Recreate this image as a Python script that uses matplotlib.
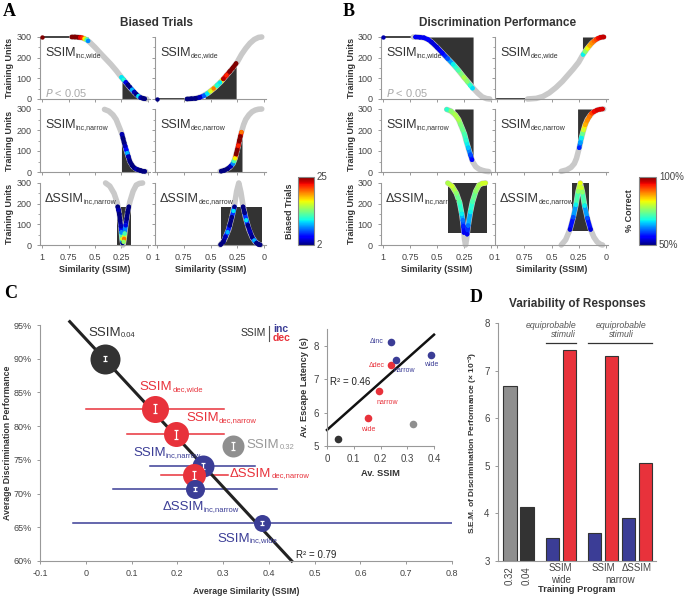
import numpy as np
import matplotlib
matplotlib.use('Agg')
import matplotlib.pyplot as plt
from matplotlib.collections import LineCollection
from matplotlib.patches import Rectangle
from matplotlib.lines import Line2D
from matplotlib import cm, colors
from matplotlib.transforms import blended_transform_factory

plt.rcParams['font.family'] = ['Liberation Sans', 'DejaVu Sans']
plt.rcParams['mathtext.default'] = 'regular'

# ---- training curves (similarity vs training units); first point is the start before the jump ----
inc_wide_x = [1.0, 0.72, 0.66, 0.62, 0.58, 0.55, 0.50, 0.45, 0.40, 0.35, 0.30, 0.25, 0.20, 0.16, 0.12, 0.08, 0.04, 0.01]
inc_wide_y = [300, 300, 299, 296, 287, 275, 250, 222, 195, 168, 138, 105, 75, 50, 28, 10, 2, 0]
dec_wide_x = [1.0, 0.72, 0.64, 0.58, 0.52, 0.46, 0.40, 0.35, 0.30, 0.25, 0.21, 0.17, 0.13, 0.09, 0.05, 0.02]
dec_wide_y = [0, 0, 3, 12, 30, 55, 85, 115, 145, 178, 215, 245, 270, 288, 298, 300]
inc_narrow_x = [0.41, 0.37, 0.33, 0.30, 0.28, 0.26, 0.245, 0.23, 0.21, 0.19, 0.17, 0.14, 0.11, 0.08, 0.05, 0.02]
inc_narrow_y = [298, 290, 272, 250, 225, 200, 180, 150, 115, 82, 50, 25, 14, 8, 4, 2]
dec_narrow_x = [0.41, 0.36, 0.32, 0.29, 0.27, 0.255, 0.24, 0.225, 0.21, 0.19, 0.17, 0.14, 0.11, 0.08, 0.05, 0.02]
dec_narrow_y = [3, 10, 22, 40, 65, 95, 125, 160, 190, 225, 250, 272, 287, 295, 299, 300]
dinc_x = [0.40, 0.36, 0.32, 0.29, 0.27, 0.255, 0.245, 0.235, 0.225, 0.21, 0.19, 0.17, 0.14, 0.11, 0.08, 0.05]
dinc_y = [300, 285, 250, 205, 150, 90, 30, 0, 30, 95, 160, 210, 260, 290, 298, 300]
ddec_x = [0.41, 0.37, 0.33, 0.30, 0.275, 0.255, 0.235, 0.215, 0.195, 0.17, 0.14, 0.11, 0.08, 0.05, 0.03]
ddec_y = [0, 25, 75, 135, 195, 260, 300, 255, 190, 130, 75, 38, 15, 3, 0]

# ---- A: biased trials along the curves (x, y, value) ----
biased_inc_wide = [([1.0], [300], [25]),
                   ([0.72, 0.69, 0.66, 0.64, 0.62, 0.60, 0.58, 0.565], [300, 300, 299, 298, 296, 292, 287, 281], [25, 25, 25, 23, 22, 17, 12, 8]),
                   ([0.25, 0.23, 0.21, 0.19, 0.17, 0.15, 0.13, 0.11, 0.09, 0.07, 0.05, 0.03], [105, 93, 81, 69, 57, 45, 34, 23, 14, 7, 4, 1], [10, 11, 4, 2, 2, 9, 3, 2, 10, 3, 2, 2])]
biased_dec_wide = [([1.0], [0], [2]),
                   ([0.72, 0.68, 0.64, 0.60, 0.56, 0.53, 0.50, 0.47, 0.44, 0.41, 0.38, 0.35, 0.32, 0.29, 0.26], [0, 1, 3, 8, 16, 26, 38, 51, 65, 80, 97, 115, 133, 151, 172], [2, 2, 2, 3, 7, 10, 16, 20, 11, 10, 24, 22, 25, 25, 25])]
biased_inc_narrow = [([0.245, 0.235, 0.225, 0.215, 0.205, 0.195, 0.185, 0.17, 0.15, 0.13, 0.11, 0.09, 0.07, 0.05, 0.03], [180, 160, 140, 123, 106, 90, 74, 50, 32, 20, 14, 10, 7, 4, 3], [3, 2, 2, 3, 5, 9, 3, 2, 2, 2, 3, 2, 2, 2, 2])]
biased_dec_narrow = [([0.40, 0.37, 0.34, 0.31, 0.29, 0.28, 0.27, 0.26, 0.25, 0.24, 0.23, 0.22, 0.21], [4, 8, 15, 28, 40, 52, 65, 85, 105, 125, 148, 170, 190], [2, 2, 2, 3, 8, 12, 17, 25, 25, 22, 25, 25, 20])]
biased_dinc = [([0.285, 0.278, 0.27, 0.263, 0.255, 0.25, 0.245, 0.24], [185, 170, 150, 120, 90, 60, 30, 10], [2, 3, 2, 2, 3, 8, 16, 2]),
               ([0.18, 0.19, 0.20, 0.21, 0.22, 0.225, 0.23], [185, 160, 128, 95, 55, 30, 15], [2, 2, 2, 4, 12, 20, 14])]
biased_ddec = [([0.405, 0.38, 0.36, 0.34, 0.32, 0.30, 0.285, 0.275], [2, 15, 40, 62, 95, 135, 165, 185], [2, 2, 3, 9, 2, 2, 10, 2]),
               ([0.195, 0.18, 0.165, 0.15, 0.13, 0.11, 0.09, 0.07, 0.05, 0.035], [185, 155, 120, 95, 65, 38, 22, 10, 3, 1], [2, 2, 10, 2, 3, 2, 9, 2, 2, 2])]

# ---- B: % correct along the curves ----
correct_inc_wide = [([1.0], [300], [52]),
                    ([0.70, 0.66, 0.62, 0.58, 0.55, 0.50, 0.45, 0.40, 0.35, 0.30, 0.25, 0.22, 0.19, 0.17], [300, 299, 296, 287, 275, 250, 222, 195, 168, 138, 105, 85, 65, 52], [55, 55, 55, 56, 54, 54, 56, 60, 68, 72, 78, 76, 70, 67])]
correct_dec_wide = [([0.21, 0.19, 0.17, 0.15, 0.13, 0.11, 0.09, 0.07, 0.05, 0.03, 0.02], [215, 230, 245, 258, 270, 280, 288, 294, 298, 300, 300], [68, 76, 82, 86, 88, 90, 92, 95, 96, 97, 97])]
correct_inc_narrow = [([0.41, 0.37, 0.33, 0.30, 0.28, 0.26, 0.245, 0.23, 0.21, 0.19, 0.175], [298, 290, 272, 250, 225, 200, 180, 150, 115, 82, 58], [70, 76, 78, 78, 75, 74, 72, 70, 66, 60, 56])]
correct_dec_narrow = [([0.245, 0.235, 0.225, 0.215, 0.205, 0.19, 0.17, 0.15, 0.13, 0.11, 0.08, 0.05, 0.03], [115, 140, 162, 183, 200, 225, 247, 265, 280, 287, 295, 299, 300], [58, 64, 68, 74, 80, 86, 88, 89, 92, 95, 96, 96, 96])]
correct_dinc = [([0.40, 0.36, 0.32, 0.29, 0.27, 0.26, 0.255, 0.25], [300, 285, 250, 205, 150, 119, 90, 60], [78, 80, 76, 72, 68, 62, 58, 55]),
                ([0.22, 0.21, 0.19, 0.17, 0.14, 0.11, 0.08, 0.05], [52, 95, 160, 210, 260, 290, 298, 300], [55, 62, 68, 72, 76, 78, 80, 80])]
correct_ddec = [([0.33, 0.30, 0.275, 0.255, 0.235], [75, 135, 195, 260, 300], [54, 60, 68, 76, 82]),
                ([0.225, 0.215, 0.195, 0.17, 0.14], [278, 255, 190, 130, 75], [80, 76, 68, 60, 54])]

# significant regions: ('below'/'above', x0, x1) or ('rect', x0, x1, y0, y1)
fills_A = [[('above', 0.72, 0.565), ('below', 0.245, 0.0)], [('below', 0.55, 0.26)],
           [('below', 0.25, 0.0)], [('below', 0.41, 0.205)],
           [('rect', 0.29, 0.16, 0, 184)], [('rect', 0.405, 0.02, 0, 184)]]
fills_B = [[('above', 0.65, 0.165)], [('above', 0.215, 0.02)],
           [('above', 0.335, 0.165)], [('above', 0.26, 0.02)],
           [('rect', 0.40, 0.04, 57, 300)], [('rect', 0.315, 0.157, 67, 300)]]

# ---- C: average similarity vs discrimination ----
c_labels = [('SSIM', '0.04'), ('SSIM', 'dec,wide'), ('SSIM', 'dec,narrow'), ('SSIM', '0.32'),
            ('SSIM', 'inc,narrow'), ('ΔSSIM', 'dec,narrow'), ('ΔSSIM', 'inc,narrow'), ('SSIM', 'inc,wide')]
c_group = ['0.04', 'dec', 'dec', '0.32', 'inc', 'dec', 'inc', 'inc']
c_x = [0.042, 0.151, 0.197, 0.321, 0.255, 0.237, 0.239, 0.386]
c_y = [0.900, 0.826, 0.788, 0.771, 0.741, 0.727, 0.707, 0.657]
c_xerr = [0, 0.151, 0.106, 0, 0.115, 0.073, 0.179, 0.415]
c_yerr = [0.004, 0.007, 0.007, 0.006, 0.004, 0.006, 0.003, 0.003]
c_fit_x = [-0.035, 0.45]
c_fit_y = [0.955, 0.60]

# inset: escape latency
i_x = [0.041, 0.153, 0.323, 0.196, 0.240, 0.257, 0.239, 0.388]
i_y = [5.22, 5.84, 5.65, 6.64, 7.42, 7.56, 8.12, 7.73]
i_group = ['0.04', 'dec', '0.32', 'dec', 'dec', 'inc', 'inc', 'inc']
i_labels = ['', 'wide', '', 'narrow', 'Δdec', 'narrow', 'Δinc', 'wide']
i_fit_x = [0.0, 0.4]
i_fit_y = [5.48, 8.33]

# ---- D: variability ----
d_sem = [6.67, 4.13, 3.49, 7.44, 3.59, 7.31, 3.90, 5.05]
d_group = ['0.32', '0.04', 'inc', 'dec', 'inc', 'dec', 'inc', 'dec']

col = {'inc': '#3b3d96', 'dec': '#e8323b', '0.32': '#8f8f8f', '0.04': '#333333'}
dark = '#333333'
jet = plt.get_cmap('jet')

W, H = 685, 598
fig = plt.figure(figsize=(W / 100, H / 100), dpi=100)


def px_axes(l, t, r, b):
    return fig.add_axes([l / W, 1 - b / H, (r - l) / W, (b - t) / H])


def ftext(x, y, s, **kw):
    fig.text(x / W, 1 - y / H, s, **kw)


def sub_label(ax, x, y, main, sub, size, subsize, color, **kw):
    t = ax.text(x, y, main, fontsize=size, color=color, va='center', **kw)
    ax.annotate(sub, xy=(1.0, 0.04), xycoords=t, fontsize=subsize, color=color,
                va='bottom', ha='left', zorder=t.get_zorder())


def style(ax):
    for s in ['top', 'right']:
        ax.spines[s].set_visible(False)
    for s in ['left', 'bottom']:
        ax.spines[s].set_color('#999999')
        ax.spines[s].set_linewidth(0.8)
    ax.tick_params(color='#999999', labelcolor='#444444', length=2.5, width=0.7)


def curve_panel(ax, cx, cy, segs, fills, norm, label, show_x, show_y, jump):
    ax.set_xlim(1.02, -0.02)
    ax.set_ylim(0, 300)
    sx = np.array(cx)
    sy = np.array(cy)
    order = np.argsort(sx)
    sx, sy = sx[order], sy[order]
    for f in fills:
        if f[0] == 'rect':
            _, x0, x1, y0, y1 = f
            ax.add_patch(Rectangle((min(x0, x1), y0), abs(x1 - x0), y1 - y0, color=dark, lw=0, zorder=1))
        else:
            lo, hi = min(f[1], f[2]), max(f[1], f[2])
            inside = (sx > lo) & (sx < hi)
            fx = np.concatenate([[lo], sx[inside], [hi]])
            fy = np.concatenate([[np.interp(lo, sx, sy)], sy[inside], [np.interp(hi, sx, sy)]])
            if f[0] == 'below':
                ax.fill_between(fx, 0, fy, color=dark, lw=0, zorder=1)
            else:
                ax.fill_between(fx, fy, 300, color=dark, lw=0, zorder=1)
    start = 0
    if jump:
        ax.plot(cx[:2], cy[:2], color='#222222', lw=1.2, zorder=2, clip_on=False)
        start = 1
    ax.plot(cx[start:], cy[start:], color='#c9c9c9', lw=4, solid_capstyle='round', zorder=2, clip_on=False)
    for px, py, pv in segs:
        if len(px) > 1:
            pts = np.column_stack([px, py])
            segments = np.stack([pts[:-1], pts[1:]], axis=1)
            lc = LineCollection(segments, cmap=jet, norm=norm, lw=3.2, capstyle='round', zorder=3)
            lc.set_array((np.array(pv[:-1]) + np.array(pv[1:])) / 2)
            lc.set_clip_on(False)
            ax.add_collection(lc)
        ax.scatter(px, py, c=pv, cmap=jet, norm=norm, s=10, lw=0, zorder=4, clip_on=False)
    style(ax)
    ax.set_xticks([1, 0.75, 0.5, 0.25, 0])
    ax.set_yticks([0, 100, 200, 300])
    ax.set_yticks([50, 150, 250], minor=True)
    ax.tick_params(which='minor', color='#999999', length=1.8, width=0.6)
    ax.set_xticklabels(['1', '0.75', '0.5', '0.25', '0'] if show_x else [], fontsize=6.5)
    ax.set_yticklabels(['0', '100', '200', '300'] if show_y else [], fontsize=6.5)
    sub_label(ax, 0.045, 0.74, label[0], label[1], 9, 5, '#333333', transform=ax.transAxes)


curves = [(inc_wide_x, inc_wide_y), (dec_wide_x, dec_wide_y), (inc_narrow_x, inc_narrow_y),
          (dec_narrow_x, dec_narrow_y), (dinc_x, dinc_y), (ddec_x, ddec_y)]
names = [('SSIM', 'inc,wide'), ('SSIM', 'dec,wide'), ('SSIM', 'inc,narrow'), ('SSIM', 'dec,narrow'),
         ('ΔSSIM', 'inc,narrow'), ('ΔSSIM', 'dec,narrow')]
segs_A = [biased_inc_wide, biased_dec_wide, biased_inc_narrow, biased_dec_narrow, biased_dinc, biased_ddec]
segs_B = [correct_inc_wide, correct_dec_wide, correct_inc_narrow, correct_dec_narrow, correct_dinc, correct_ddec]
rows = [(37, 99), (109, 172), (183, 245)]
cols_A = [(40, 150), (155, 266)]
cols_B = [(381, 493), (495, 608)]
norm_A = colors.Normalize(2, 25)
norm_B = colors.Normalize(50, 100)

for k in range(6):
    r, c = divmod(k, 2)
    t, b = rows[r]
    l, rr = cols_A[c]
    curve_panel(px_axes(l, t, rr, b), *curves[k], segs_A[k], fills_A[k], norm_A, names[k], r == 2, c == 0, r == 0)
    l, rr = cols_B[c]
    curve_panel(px_axes(l, t, rr, b), *curves[k], segs_B[k], fills_B[k], norm_B, names[k], r == 2, c == 0, r == 0)

for xa in [(40, 150), (381, 493)]:
    ftext(xa[0] + 5, 93, r'$\it{P}$ < 0.05', fontsize=8, color='#aaaaaa', va='center')

for xc, title in [(157, 'Biased Trials'), (498, 'Discrimination Performance')]:
    ftext(xc, 23, title, fontsize=8.5, fontweight='bold', color='#333333', ha='center', va='center')
for xl in [10, 351]:
    for t, b in rows:
        ftext(xl, (t + b) / 2, 'Training Units', fontsize=6.5, fontweight='bold', color='#333333',
              rotation=90, ha='center', va='center')
for xc in [95, 211, 437, 552]:
    ftext(xc, 269, 'Similarity (SSIM)', fontsize=6.5, fontweight='bold', color='#333333', ha='center', va='center')

# colorbars
for (l, r), norm, lab, top, bot, xl in [((298, 314), norm_A, 'Biased Trials', '25', '2', 289),
                                        ((639, 656), norm_B, '% Correct', '100%', '50%', 630)]:
    cax = px_axes(l, 177, r, 245)
    cb = fig.colorbar(cm.ScalarMappable(norm=norm, cmap=jet), cax=cax, ticks=[])
    cb.outline.set_edgecolor('#888888')
    cb.outline.set_linewidth(0.8)
    ftext(r + 3, 177, top, fontsize=7, color='#444444', va='center')
    ftext(r + 3, 245, bot, fontsize=7, color='#444444', va='center')
    ftext(xl, 211, lab, fontsize=6.5, fontweight='bold', color='#333333', rotation=90, ha='center', va='center')

for x, y, s in [(3, 12, 'A'), (343, 12, 'B'), (4, 293, 'C'), (470, 297, 'D')]:
    ftext(x, y, s, fontsize=13, fontweight='bold', family='Liberation Serif', va='center')

# ---- panel C ----
axC = px_axes(40, 325, 452, 561)
axC.set_xlim(-0.1, 0.8)
axC.set_ylim(0.6, 0.95)
style(axC)
axC.plot(c_fit_x, c_fit_y, color='#222222', lw=2.2, zorder=2, clip_on=False)
c_size = [30, 27, 25, 22, 22, 23, 19, 17]
for i in range(len(c_x)):
    cc = col[c_group[i]]
    if c_xerr[i] > 0:
        axC.plot([c_x[i] - c_xerr[i], c_x[i] + c_xerr[i]], [c_y[i], c_y[i]], color=cc, lw=1.1, zorder=1)
    axC.scatter(c_x[i], c_y[i], s=(c_size[i] * 0.72) ** 2, color=cc, lw=0, zorder=3 + i)
    axC.errorbar(c_x[i], c_y[i], yerr=c_yerr[i], color='white', capsize=1.6, lw=0.9, capthick=0.9, zorder=3.5 + i)
axC.set_xticks(np.arange(-0.1, 0.81, 0.1))
axC.set_xticklabels(['-0.1', '0', '0.1', '0.2', '0.3', '0.4', '0.5', '0.6', '0.7', '0.8'], fontsize=6.5)
axC.set_yticks([0.6, 0.65, 0.7, 0.75, 0.8, 0.85, 0.9, 0.95])
axC.set_yticklabels(['60%', '65%', '70%', '75%', '80%', '85%', '90%', '95%'], fontsize=6.5)
c_text_col = {'0.04': '#333333', '0.32': '#999999', 'inc': col['inc'], 'dec': col['dec']}
c_text_pos = [(0.005, 0.938), (0.118, 0.858), (0.219, 0.812), (0.352, 0.772),
              (0.103, 0.760), (0.315, 0.729), (0.167, 0.680), (0.287, 0.633)]
for i, (tx, ty) in enumerate(c_text_pos):
    sub_label(axC, tx, ty, c_labels[i][0], c_labels[i][1], 9.5, 5.5, c_text_col[c_group[i]], zorder=20)
axC.text(0.459, 0.609, 'R² = 0.79', fontsize=7, color='#222222', va='center')
ftext(8, 443, 'Average Discrimination Performance', fontsize=6.3, fontweight='bold', color='#333333',
      rotation=90, ha='center', va='center')
ftext(246, 591, 'Average Similarity (SSIM)', fontsize=6.3, fontweight='bold', color='#333333', ha='center', va='center')

# key
ftext(266, 333, 'SSIM', fontsize=7.5, color='#333333', ha='right', va='center')
fig.add_artist(Line2D([269 / W, 269 / W], [1 - 326 / H, 1 - 341 / H], color='#555555', lw=0.8))
ftext(273, 329, 'inc', fontsize=7.5, fontweight='bold', color=col['inc'], va='center')
ftext(273, 338, 'dec', fontsize=7.5, fontweight='bold', color=col['dec'], va='center')

# inset
axI = px_axes(327, 329, 434, 446)
axI.set_xlim(0, 0.4)
axI.set_ylim(5, 8.5)
style(axI)
axI.plot(i_fit_x, i_fit_y, color='#111111', lw=1.8, zorder=2, clip_on=False)
for i in range(len(i_x)):
    axI.scatter(i_x[i], i_y[i], s=30, color=col[i_group[i]], lw=0, zorder=3, clip_on=False)
i_off = [(0, 0), (0, -8), (0, 0), (6, -8), (-5, 0), (6, -7), (-5, 0), (0, -7)]
for i, lab in enumerate(i_labels):
    if lab:
        ha = 'right' if lab.startswith('Δ') else 'center'
        axI.annotate(lab, (i_x[i], i_y[i]), xytext=i_off[i], textcoords='offset points',
                     fontsize=5, color=col[i_group[i]], ha=ha, va='center')
axI.text(0.01, 6.9, 'R² = 0.46', fontsize=7, color='#222222', va='center')
axI.set_xticks([0, 0.1, 0.2, 0.3, 0.4])
axI.set_xticklabels(['0', '0.1', '0.2', '0.3', '0.4'], fontsize=7)
axI.set_yticks([5, 6, 7, 8])
axI.set_yticklabels(['5', '6', '7', '8'], fontsize=7)
axI.set_ylabel('Av. Escape Latency (s)', fontsize=6.7, fontweight='bold', color='#333333', labelpad=3)
axI.set_xlabel('Av. SSIM', fontsize=6.7, fontweight='bold', color='#333333', labelpad=3)

# ---- panel D ----
axD = px_axes(498, 323, 656, 561)
d_pos = [0, 1, 2.5, 3.5, 5, 6, 7, 8]
axD.bar(d_pos, np.array(d_sem) - 3, bottom=3, width=0.8, color=[col[g] for g in d_group],
        edgecolor='#333333', lw=0.8)
axD.set_xlim(-0.71, 8.62)
axD.set_ylim(3, 8)
style(axD)
axD.set_yticks([3, 4, 5, 6, 7, 8])
axD.set_yticklabels(['3', '4', '5', '6', '7', '8'], fontsize=7)
axD.set_xticks([])
tr = blended_transform_factory(axD.transData, axD.transAxes)
for x, s in [(0, '0.32'), (1, '0.04')]:
    axD.text(x, -0.02, s, transform=tr, rotation=90, fontsize=7, color='#444444', ha='center', va='top')
for x, y, s in [(3.0, -0.03, 'SSIM'), (3.0, -0.08, 'wide'), (5.5, -0.03, 'SSIM'),
                (7.5, -0.03, 'ΔSSIM'), (6.5, -0.08, 'narrow')]:
    axD.text(x, y, s, transform=tr, fontsize=7, color='#444444', ha='center', va='center')
axD.text(3.9, 7.86, 'equiprobable\nstimuli', fontsize=6.3, style='italic', color='#555555',
         ha='right', va='center', multialignment='right', linespacing=1.0)
axD.plot([2.1, 3.9], [7.58, 7.58], color='#333333', lw=0.9, clip_on=False)
axD.text(6.55, 7.86, 'equiprobable\nstimuli', fontsize=6.3, style='italic', color='#555555',
         ha='center', va='center', linespacing=1.0)
axD.plot([4.6, 8.4], [7.58, 7.58], color='#333333', lw=0.9, clip_on=False)
ftext(577, 304, 'Variability of Responses', fontsize=8.5, fontweight='bold', color='#333333', ha='center', va='center')
ftext(473, 443, 'S.E.M. of Discrimination Performance (× 10$^{-3}$)', fontsize=6, fontweight='bold',
      color='#333333', rotation=90, ha='center', va='center')
ftext(577, 590, 'Training Program', fontsize=6.7, fontweight='bold', color='#333333', ha='center', va='center')

fig.savefig('out.png', dpi=100)
